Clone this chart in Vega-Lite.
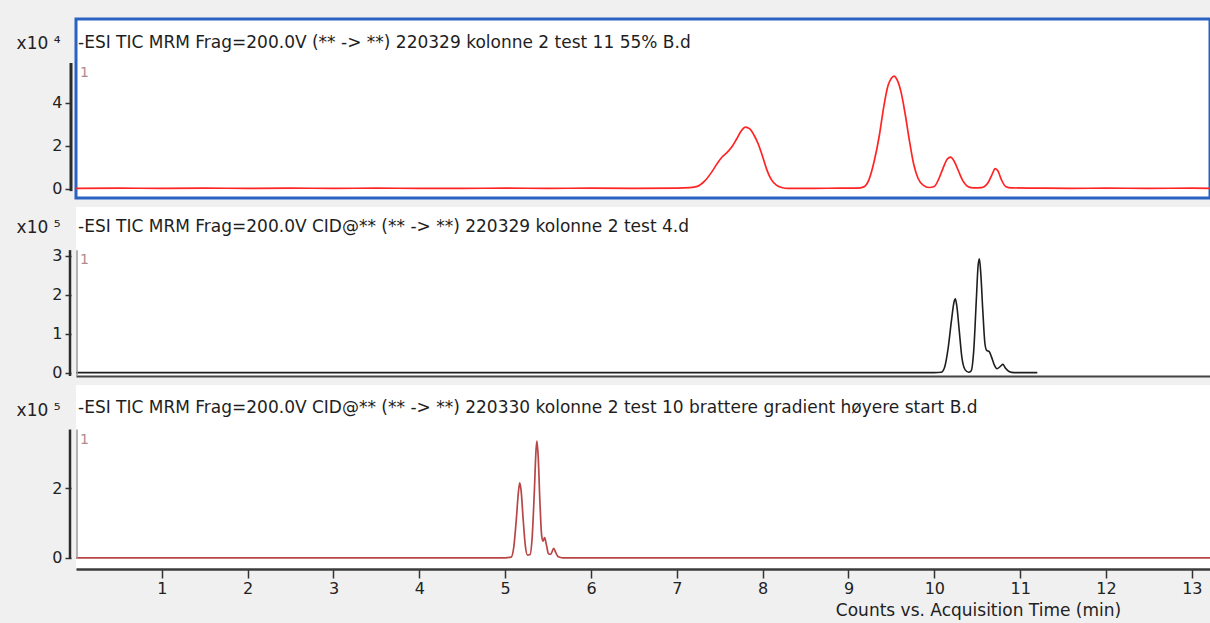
{
  "$schema": "https://vega.github.io/schema/vega-lite/v6.json",
  "background": "#f0f0f0",
  "padding": {"left": 14, "top": 17, "right": 0, "bottom": 5},
  "spacing": 9,
  "bounds": "flush",
  "config": {
    "font": "DejaVu Sans",
    "view": {"fill": "white", "stroke": null},
    "axis": {
      "labelFont": "DejaVu Sans",
      "titleFont": "DejaVu Sans",
      "labelColor": "#222222",
      "titleColor": "#222222",
      "titleFontWeight": "normal",
      "grid": false
    }
  },
  "datasets": {
    "tic_a": [
      {"t": 0, "counts": 300}, {"t": 0.5, "counts": 400}, {"t": 1, "counts": 300}, {"t": 1.5, "counts": 400},
      {"t": 2, "counts": 300}, {"t": 2.5, "counts": 400}, {"t": 3, "counts": 300}, {"t": 3.5, "counts": 400},
      {"t": 4, "counts": 300}, {"t": 4.5, "counts": 300}, {"t": 5, "counts": 400}, {"t": 5.5, "counts": 300},
      {"t": 6, "counts": 400}, {"t": 6.5, "counts": 300}, {"t": 7.0, "counts": 400}, {"t": 7.15, "counts": 600},
      {"t": 7.24, "counts": 1200}, {"t": 7.32, "counts": 3500}, {"t": 7.40, "counts": 7500}, {"t": 7.47, "counts": 11800},
      {"t": 7.53, "counts": 15000}, {"t": 7.58, "counts": 16800}, {"t": 7.64, "counts": 19500}, {"t": 7.70, "counts": 23500},
      {"t": 7.75, "counts": 27000}, {"t": 7.80, "counts": 28800}, {"t": 7.85, "counts": 28000}, {"t": 7.90, "counts": 25000},
      {"t": 7.95, "counts": 20800}, {"t": 8.00, "counts": 15000}, {"t": 8.05, "counts": 8800}, {"t": 8.10, "counts": 4500},
      {"t": 8.16, "counts": 1800}, {"t": 8.22, "counts": 700}, {"t": 8.30, "counts": 300}, {"t": 8.6, "counts": 300},
      {"t": 8.9, "counts": 400}, {"t": 9.1, "counts": 400}, {"t": 9.18, "counts": 1000}, {"t": 9.24, "counts": 4500},
      {"t": 9.30, "counts": 13000}, {"t": 9.36, "counts": 25000}, {"t": 9.41, "counts": 38000}, {"t": 9.46, "counts": 48000},
      {"t": 9.50, "counts": 51500}, {"t": 9.53, "counts": 52500}, {"t": 9.57, "counts": 50500}, {"t": 9.61, "counts": 45500},
      {"t": 9.66, "counts": 35000}, {"t": 9.71, "counts": 22500}, {"t": 9.76, "counts": 11500}, {"t": 9.81, "counts": 5000},
      {"t": 9.87, "counts": 1800}, {"t": 9.94, "counts": 700}, {"t": 10.00, "counts": 1200}, {"t": 10.05, "counts": 4500},
      {"t": 10.10, "counts": 9500}, {"t": 10.15, "counts": 13800}, {"t": 10.19, "counts": 14800}, {"t": 10.23, "counts": 13000},
      {"t": 10.28, "counts": 8500}, {"t": 10.33, "counts": 4000}, {"t": 10.39, "counts": 1200}, {"t": 10.46, "counts": 500},
      {"t": 10.55, "counts": 600}, {"t": 10.62, "counts": 2500}, {"t": 10.67, "counts": 6500}, {"t": 10.71, "counts": 9500},
      {"t": 10.74, "counts": 8500}, {"t": 10.78, "counts": 4500}, {"t": 10.83, "counts": 1200}, {"t": 10.90, "counts": 500},
      {"t": 11.2, "counts": 400}, {"t": 11.6, "counts": 300}, {"t": 12.0, "counts": 400}, {"t": 12.5, "counts": 300},
      {"t": 13.0, "counts": 400}, {"t": 13.212, "counts": 300}
    ],
    "tic_b": [
      {"t": 0, "counts": 1000}, {"t": 2, "counts": 1000}, {"t": 4, "counts": 1000}, {"t": 6, "counts": 1000},
      {"t": 8, "counts": 1000}, {"t": 10.0, "counts": 1000}, {"t": 10.08, "counts": 2000}, {"t": 10.12, "counts": 15000},
      {"t": 10.16, "counts": 62000}, {"t": 10.20, "counts": 135000}, {"t": 10.23, "counts": 182000}, {"t": 10.245, "counts": 190000},
      {"t": 10.26, "counts": 175000}, {"t": 10.29, "counts": 110000}, {"t": 10.32, "counts": 42000}, {"t": 10.36, "counts": 8000},
      {"t": 10.40, "counts": 2000}, {"t": 10.43, "counts": 6000}, {"t": 10.46, "counts": 60000}, {"t": 10.49, "counts": 190000},
      {"t": 10.51, "counts": 275000}, {"t": 10.525, "counts": 293000}, {"t": 10.54, "counts": 260000}, {"t": 10.565, "counts": 160000},
      {"t": 10.59, "counts": 75000}, {"t": 10.61, "counts": 58000}, {"t": 10.64, "counts": 55000}, {"t": 10.665, "counts": 42000},
      {"t": 10.70, "counts": 20000}, {"t": 10.73, "counts": 11000}, {"t": 10.77, "counts": 17000}, {"t": 10.80, "counts": 22000},
      {"t": 10.83, "counts": 12000}, {"t": 10.87, "counts": 4000}, {"t": 10.93, "counts": 1000}, {"t": 11.2, "counts": 1000}
    ],
    "tic_c": [
      {"t": 0, "counts": 0}, {"t": 1, "counts": 0}, {"t": 2, "counts": 0}, {"t": 3, "counts": 0}, {"t": 4, "counts": 0},
      {"t": 5.0, "counts": 0}, {"t": 5.07, "counts": 2000}, {"t": 5.10, "counts": 30000}, {"t": 5.13, "counts": 110000},
      {"t": 5.155, "counts": 190000}, {"t": 5.17, "counts": 215000}, {"t": 5.185, "counts": 195000}, {"t": 5.21, "counts": 110000},
      {"t": 5.235, "counts": 35000}, {"t": 5.26, "counts": 8000}, {"t": 5.29, "counts": 10000}, {"t": 5.315, "counts": 60000},
      {"t": 5.34, "counts": 190000}, {"t": 5.36, "counts": 310000}, {"t": 5.37, "counts": 335000}, {"t": 5.385, "counts": 290000},
      {"t": 5.405, "counts": 160000}, {"t": 5.425, "counts": 65000}, {"t": 5.44, "counts": 48000}, {"t": 5.46, "counts": 58000},
      {"t": 5.48, "counts": 38000}, {"t": 5.505, "counts": 12000}, {"t": 5.53, "counts": 10000}, {"t": 5.565, "counts": 27000},
      {"t": 5.59, "counts": 15000}, {"t": 5.62, "counts": 3000}, {"t": 5.67, "counts": 0}, {"t": 6, "counts": 0},
      {"t": 8, "counts": 0}, {"t": 10, "counts": 0}, {"t": 12, "counts": 0}, {"t": 13.212, "counts": 0}
    ]
  },
  "vconcat": [
    {
      "width": 1134,
      "height": 179,
      "view": {"fill": "white", "stroke": "#2a62c2", "strokeWidth": 3},
      "layer": [
        {
          "data": {"name": "tic_a"},
          "mark": {"type": "line", "color": "#ff2424", "strokeWidth": 1.7, "interpolate": "monotone"},
          "encoding": {
            "x": {"field": "t", "type": "quantitative", "scale": {"domain": [0, 13.212], "nice": false, "zero": false}, "axis": null},
            "y": {
              "field": "counts", "type": "quantitative",
              "scale": {"domain": [-4190, 79070], "nice": false, "zero": false},
              "axis": {
                "values": [0, 20000, 40000], "labelExpr": "datum.value / 10000",
                "title": "x10 ⁴", "titleAngle": 0, "titleAlign": "right", "titleBaseline": "middle",
                "titleX": -11, "titleY": 24, "titleFontSize": 17,
                "domain": false, "offset": 5, "tickSize": 6, "tickColor": "#333333", "tickWidth": 1.5,
                "labelFontSize": 16, "labelPadding": 3
              }
            }
          }
        },
        {
          "data": {"values": [{"trace": "1", "title": "-ESI TIC MRM Frag=200.0V (** -> **) 220329 kolonne 2 test 11 55% B.d"}]},
          "layer": [
            {
              "mark": {"type": "rule", "color": "#2b2b2b", "strokeWidth": 3, "xOffset": -5},
              "encoding": {"x": {"datum": 0}, "y": {"datum": -1000}, "y2": {"datum": 58600}}
            },
            {
              "mark": {"type": "text", "align": "left", "baseline": "middle", "fontSize": 17, "color": "#1e1e1e", "dx": 2},
              "encoding": {"x": {"datum": 0}, "y": {"datum": 67900}, "text": {"field": "title"}}
            },
            {
              "mark": {"type": "text", "align": "left", "baseline": "top", "fontSize": 14, "color": "#b08a8a", "dx": 4, "dy": 3},
              "encoding": {"x": {"datum": 0}, "y": {"datum": 58600}, "text": {"field": "trace"}}
            }
          ]
        }
      ]
    },
    {
      "width": 1134,
      "height": 169,
      "view": {"fill": "white", "stroke": null},
      "layer": [
        {
          "data": {"name": "tic_b"},
          "mark": {"type": "line", "color": "#1e1e1e", "strokeWidth": 1.6, "interpolate": "monotone"},
          "encoding": {
            "x": {
              "field": "t", "type": "quantitative", "scale": {"domain": [0, 13.212], "nice": false, "zero": false},
              "axis": {"labels": false, "ticks": false, "title": null, "domain": true, "domainColor": "#444444", "domainWidth": 2}
            },
            "y": {
              "field": "counts", "type": "quantitative",
              "scale": {"domain": [-7700, 425600], "nice": false, "zero": false},
              "axis": {
                "values": [0, 100000, 200000, 300000], "labelExpr": "datum.value / 100000",
                "title": "x10 ⁵", "titleAngle": 0, "titleAlign": "right", "titleBaseline": "middle",
                "titleX": -11, "titleY": 20, "titleFontSize": 17,
                "domain": false, "offset": 5, "tickSize": 6, "tickColor": "#333333", "tickWidth": 1.5,
                "labelFontSize": 16, "labelPadding": 3
              }
            }
          }
        },
        {
          "data": {"values": [{"trace": "1", "title": "-ESI TIC MRM Frag=200.0V CID@** (** -> **) 220329 kolonne 2 test 4.d"}]},
          "layer": [
            {
              "mark": {"type": "rule", "color": "#2b2b2b", "strokeWidth": 2.5, "xOffset": -6},
              "encoding": {"x": {"datum": 0}, "y": {"datum": -7700}, "y2": {"datum": 315000}}
            },
            {
              "mark": {"type": "rule", "color": "#9a9a9a", "strokeWidth": 1.5, "xOffset": 1},
              "encoding": {"x": {"datum": 0}, "y": {"datum": -7700}, "y2": {"datum": 315000}}
            },
            {
              "mark": {"type": "text", "align": "left", "baseline": "middle", "fontSize": 17, "color": "#1e1e1e", "dx": 2},
              "encoding": {"x": {"datum": 0}, "y": {"datum": 374400}, "text": {"field": "title"}}
            },
            {
              "mark": {"type": "text", "align": "left", "baseline": "top", "fontSize": 14, "color": "#b08a8a", "dx": 4, "dy": 3},
              "encoding": {"x": {"datum": 0}, "y": {"datum": 315000}, "text": {"field": "trace"}}
            }
          ]
        }
      ]
    },
    {
      "width": 1134,
      "height": 184,
      "view": {"fill": "white", "stroke": null},
      "layer": [
        {
          "data": {"name": "tic_c"},
          "mark": {"type": "line", "color": "#b84646", "strokeWidth": 1.7, "interpolate": "monotone"},
          "encoding": {
            "x": {
              "field": "t", "type": "quantitative", "scale": {"domain": [0, 13.212], "nice": false, "zero": false},
              "axis": {
                "values": [1, 2, 3, 4, 5, 6, 7, 8, 9, 10, 11, 12, 13], "format": "d",
                "title": "Counts vs. Acquisition Time (min)", "titleFontSize": 17,
                "titleX": 902, "titleY": 41, "titleAlign": "center", "titleBaseline": "middle", "titleAnchor": null,
                "domainColor": "#3c3c3c", "domainWidth": 2.5,
                "tickColor": "#333333", "tickSize": 9, "tickWidth": 1.5,
                "labelFontSize": 16, "labelPadding": 2
              }
            },
            "y": {
              "field": "counts", "type": "quantitative",
              "scale": {"domain": [-31900, 495700], "nice": false, "zero": false},
              "axis": {
                "values": [0, 200000], "labelExpr": "datum.value / 100000",
                "title": "x10 ⁵", "titleAngle": 0, "titleAlign": "right", "titleBaseline": "middle",
                "titleX": -11, "titleY": 25, "titleFontSize": 17,
                "domain": false, "offset": 5, "tickSize": 6, "tickColor": "#333333", "tickWidth": 1.5,
                "labelFontSize": 16, "labelPadding": 3
              }
            }
          }
        },
        {
          "data": {"values": [{"trace": "1", "title": "-ESI TIC MRM Frag=200.0V CID@** (** -> **) 220330 kolonne 2 test 10 brattere gradient høyere start B.d"}]},
          "layer": [
            {
              "mark": {"type": "rule", "color": "#2b2b2b", "strokeWidth": 2.5, "xOffset": -6},
              "encoding": {"x": {"datum": 0}, "y": {"datum": -3000}, "y2": {"datum": 368000}}
            },
            {
              "mark": {"type": "rule", "color": "#9a9a9a", "strokeWidth": 1.5, "xOffset": 1},
              "encoding": {"x": {"datum": 0}, "y": {"datum": -3000}, "y2": {"datum": 368000}}
            },
            {
              "mark": {"type": "text", "align": "left", "baseline": "middle", "fontSize": 17, "color": "#1e1e1e", "dx": 2},
              "encoding": {"x": {"datum": 0}, "y": {"datum": 429000}, "text": {"field": "title"}}
            },
            {
              "mark": {"type": "text", "align": "left", "baseline": "top", "fontSize": 14, "color": "#b08a8a", "dx": 4, "dy": 3},
              "encoding": {"x": {"datum": 0}, "y": {"datum": 368000}, "text": {"field": "trace"}}
            }
          ]
        }
      ]
    }
  ]
}
